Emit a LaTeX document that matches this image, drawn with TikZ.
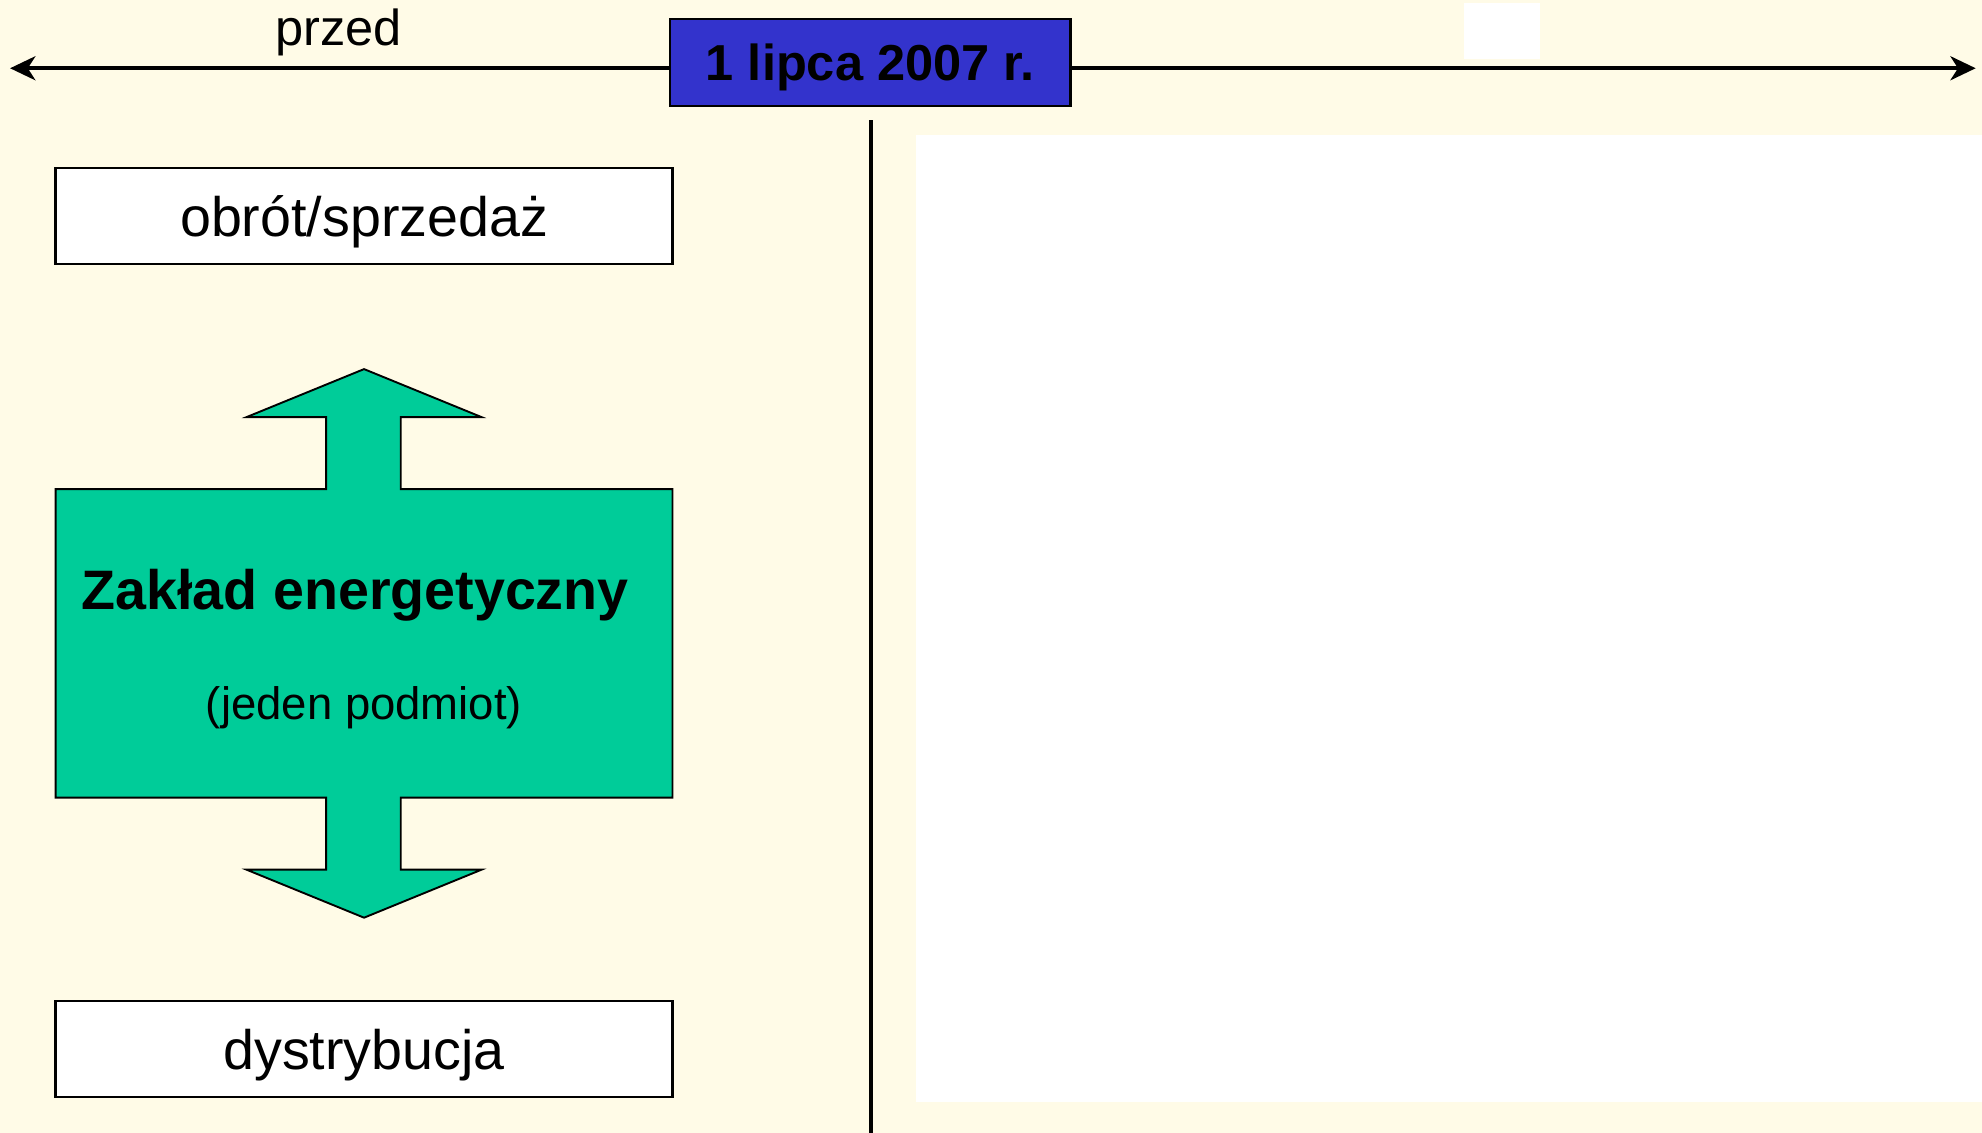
\documentclass[tikz,border=0pt]{standalone}
\usepackage{fontspec}
\setmainfont{Liberation Sans}
\usetikzlibrary{arrows.meta}
\definecolor{cream}{RGB}{255,251,231}
\definecolor{dateblue}{RGB}{51,51,204}
\definecolor{firmgreen}{RGB}{0,204,153}

\begin{document}
\begin{tikzpicture}[x=1pt,y=-1pt,
    box/.style={draw=black, line width=2pt, fill=white, minimum width=488pt,
      minimum height=76pt, inner sep=0pt, text height=32pt, text depth=0pt,
      font=\fontsize{44}{52}\selectfont},
    timeline/.style={line width=3pt, -{Stealth[length=20pt,width=19pt,inset=6pt]}}]
	% Background and empty areas
	\fill[cream] (0,0) rectangle (1568,896);
	\useasboundingbox (0,0) rectangle (1568,896);
	\fill[white] (725,107) rectangle (1568,872);
	\fill[white] (1158,2) rectangle (1218,47);
	
	% Timeline with the date
	\node[draw=black, line width=2pt, fill=dateblue, minimum width=317pt, minimum height=69pt,
	  inner sep=0pt, text height=29pt, text depth=0pt,
	  font=\fontsize{40}{48}\selectfont\bfseries] (date) at (688.5,49.5) {1 lipca 2007 r.};
	\coordinate (pastend) at (8,54);
	\coordinate (futureend) at (1563,54);
	\draw[timeline] (date.west |- pastend) -- (pastend);
	\draw[timeline] (date.east |- futureend) -- (futureend);
	\node[anchor=base, font=\fontsize{40}{48}\selectfont] (przed) at (268,36) {przed};
	
	% Divider
	\coordinate (divtop) at (689,95);
	\coordinate (divbot) at (689,896);
	\draw[line width=3pt] (divtop) -- (divbot);
	
	% Activities
	\node[box] (obrot) at (288,171) {obrót/sprzedaż};
	\node[box] (dystr) at (288,830) {dystrybucja};
	
	% Company block with double arrow
	\draw[fill=firmgreen, line width=1.5pt, line join=miter]
	  (44,387) -- (258,387) -- (258,330) -- (195,330) -- (288,292) -- (381,330) -- (317,330)
	  -- (317,387) -- (532,387) -- (532,631) -- (317,631) -- (317,688) -- (381,688)
	  -- (288,726) -- (195,688) -- (258,688) -- (258,631) -- (44,631) -- cycle;
	\node[anchor=base, font=\fontsize{44}{52}\selectfont\bfseries] (zaklad) at (281,482) {Zakład energetyczny};
	\node[anchor=base, font=\fontsize{36}{44}\selectfont] (podmiot) at (288,569) {(jeden podmiot)};
\end{tikzpicture}
\end{document}
